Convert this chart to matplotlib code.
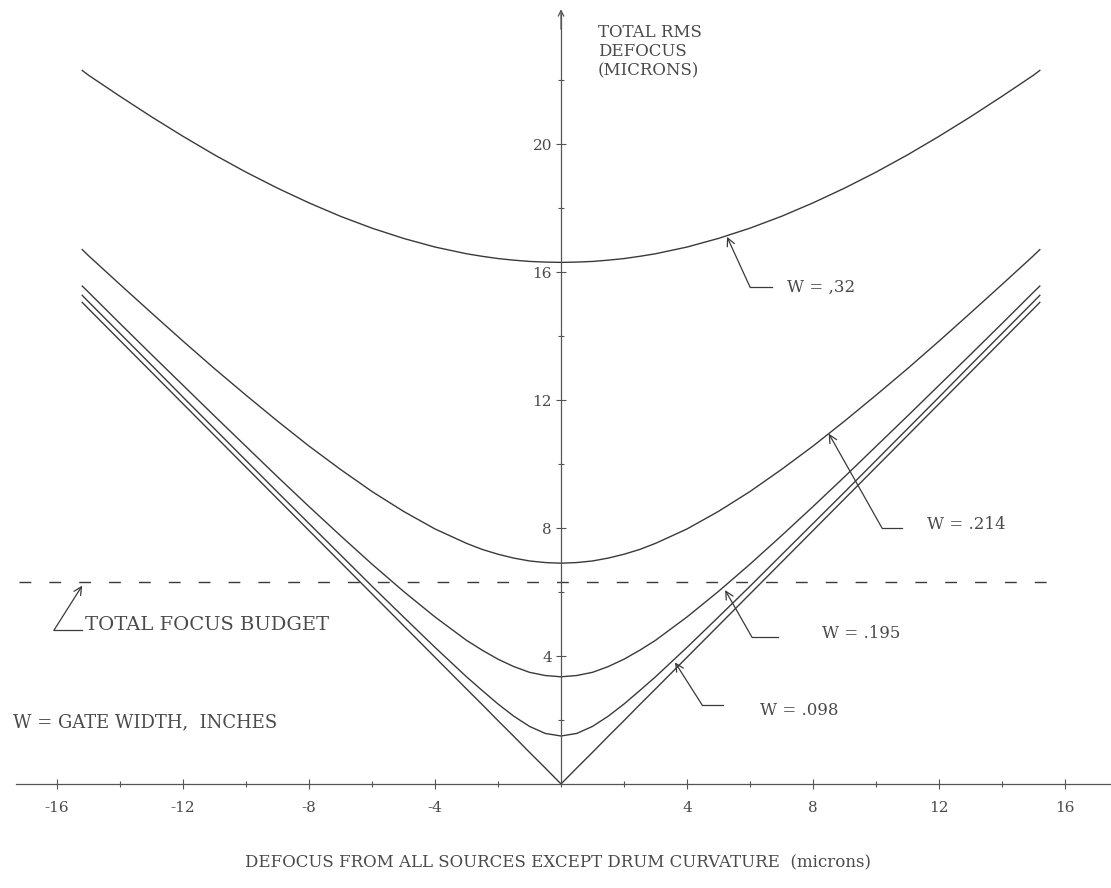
import numpy as np
import matplotlib
matplotlib.use("Agg")
import matplotlib.pyplot as plt

# right half of each curve (curves are symmetric about 0)
x_half = [0, 0.5, 1, 1.5, 2, 2.5, 3, 4, 5, 6, 7, 8, 9, 10, 11, 12, 13, 14, 15, 15.2]
w_032 = [16.3, 16.31, 16.33, 16.37, 16.42, 16.49, 16.57, 16.78, 17.05, 17.37, 17.74,
         18.16, 18.62, 19.12, 19.66, 20.24, 20.85, 21.49, 22.15, 22.3]
w_0214 = [6.9, 6.92, 6.97, 7.06, 7.18, 7.33, 7.52, 7.97, 8.52, 9.14, 9.83,
          10.56, 11.34, 12.15, 12.98, 13.84, 14.72, 15.61, 16.51, 16.7]
w_0195 = [3.35, 3.39, 3.49, 3.67, 3.9, 4.18, 4.49, 5.22, 6.02, 6.87, 7.76,
          8.67, 9.6, 10.55, 11.5, 12.46, 13.42, 14.39, 15.37, 15.56]
w_0098 = [1.5, 1.58, 1.8, 2.12, 2.5, 2.92, 3.35, 4.27, 5.22, 6.18, 7.16,
          8.14, 9.12, 10.11, 11.1, 12.09, 13.09, 14.08, 15.07, 15.27]
w_0 = [0.0, 0.5, 0.99, 1.49, 1.98, 2.48, 2.97, 3.96, 4.95, 5.94, 6.93,
       7.92, 8.91, 9.9, 10.89, 11.88, 12.87, 13.86, 14.85, 15.05]
budget = 6.3

x_ticks = [-16, -12, -8, -4, 4, 8, 12, 16]
y_ticks = [4, 8, 12, 16, 20]

ink = '#3a3a3a'
txt = '#4a4a4a'
plt.rcParams['font.family'] = ['DejaVu Serif']
plt.rcParams['axes.unicode_minus'] = False

fig = plt.figure(figsize=(11.11, 8.88), dpi=100)
ax = fig.add_axes([0, 0, 1, 1])
ax.set_xlim(-17.81, 17.46)
ax.set_ylim(-3.25, 24.5)

xh = np.array(x_half)
x_full = np.concatenate([-xh[::-1], xh[1:]])
for ys in [w_032, w_0214, w_0195, w_0098, w_0]:
    yh = np.array(ys)
    ax.plot(x_full, np.concatenate([yh[::-1], yh[1:]]), color=ink, lw=1.0)

ax.hlines(budget, -17.2, 15.75, colors=ink, lw=1.0, linestyles=(0, (8.5, 13)))

# axes through the origin
for s in ['top', 'right']:
    ax.spines[s].set_visible(False)
ax.spines['left'].set_position(('data', 0))
ax.spines['bottom'].set_position(('data', 0))
ax.spines['left'].set_bounds(0, 24.1)
ax.spines['bottom'].set_bounds(-17.3, 17.46)
for s in ['left', 'bottom']:
    ax.spines[s].set_color('#555555')
    ax.spines[s].set_linewidth(0.9)
ax.set_xticks(x_ticks)
ax.set_yticks(y_ticks)
ax.set_xticks(np.arange(-16, 17, 2), minor=True)
ax.set_yticks(np.arange(2, 24, 2), minor=True)
ax.tick_params(which='both', direction='inout', color='#555555', width=0.8)
ax.tick_params(which='major', length=7)
ax.tick_params(which='minor', length=5)
ax.tick_params(axis='x', pad=9, labelsize=11, labelcolor=txt)
ax.tick_params(axis='y', pad=3, labelsize=11, labelcolor=txt)
ax.annotate('', xy=(0, 24.3), xytext=(0, 23.5),
            arrowprops=dict(arrowstyle='->', color='#555555', lw=0.9))

ax.text(1.17, 23.75, 'TOTAL RMS\nDEFOCUS\n(MICRONS)', fontsize=12, color=txt,
        ha='left', va='top', linespacing=1.15)
ax.text(-0.1, -2.47, 'DEFOCUS FROM ALL SOURCES EXCEPT DRUM CURVATURE  (microns)',
        fontsize=12, color=txt, ha='center', va='center')
ax.text(-17.4, 1.94, 'W = GATE WIDTH,  INCHES', fontsize=13, color=txt,
        ha='left', va='center')
ax.text(-15.1, 4.97, 'TOTAL FOCUS BUDGET', fontsize=14, color=txt,
        ha='left', va='center')

# leader lines with open arrowheads
leaders = [
    ((-15.2, 6.2), (-16.1, 4.8), (-15.2, 4.8)),
    ((5.27, 17.1), (6.0, 15.53), (6.7, 15.53)),
    ((8.5, 10.95), (10.19, 8.0), (10.83, 8.0)),
    ((5.21, 6.06), (6.06, 4.59), (6.89, 4.59)),
    ((3.62, 3.8), (4.48, 2.47), (5.14, 2.47)),
]
for tip, corner, end in leaders:
    ax.plot([corner[0], end[0]], [corner[1], end[1]], color=ink, lw=0.9)
    ax.annotate('', xy=tip, xytext=corner,
                arrowprops=dict(arrowstyle='->', color=ink, lw=0.9,
                                shrinkA=0, shrinkB=0, mutation_scale=14))

labels = [('W = ,32', 7.17, 15.53), ('W = .214', 11.62, 8.1),
          ('W = .195', 8.29, 4.69), ('W = .098', 6.32, 2.3)]
for s, lx, ly in labels:
    ax.text(lx, ly, s, fontsize=12, color=txt, ha='left', va='center')

fig.savefig('out.png', dpi=100)
